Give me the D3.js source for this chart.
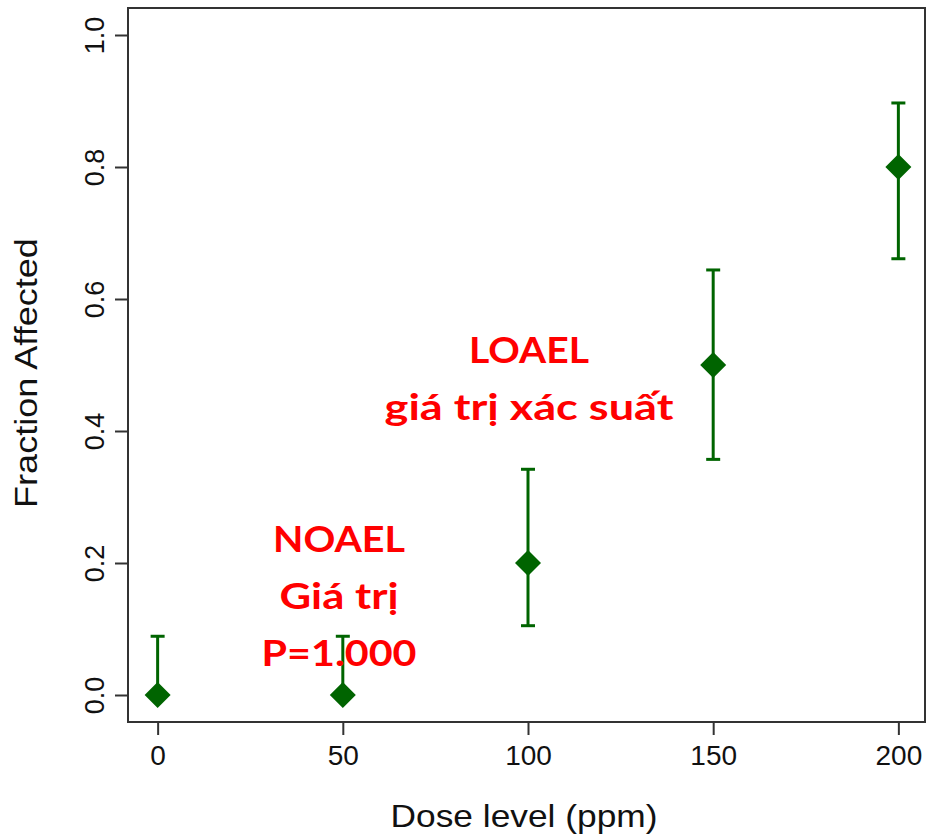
<!DOCTYPE html>
<html><head><meta charset="utf-8">
<script src="https://cdn.jsdelivr.net/npm/d3@7"></script>
<style>body{margin:0;background:#fff}svg{display:block}</style>
</head><body>
<svg id="c" width="927" height="837"></svg>
<script>
const doses = [0, 50, 100, 150, 200];
const fraction = [0, 0, 0.2, 0.5, 0.8];
const lower = [0, 0, 0.105, 0.357, 0.661];
const upper = [0.089, 0.089, 0.342, 0.644, 0.897];
const xTicks = [0, 50, 100, 150, 200];
const yTicks = [0, 0.2, 0.4, 0.6, 0.8, 1.0];
const noaelLines = ["NOAEL", "Giá trị", "P=1.000"];
const loaelLines = ["LOAEL", "giá trị xác suất"];

const svg = d3.select("#c");
const x = d3.scaleLinear().domain([-8, 208]).range([128, 928]);
const y = d3.scaleLinear().domain([-0.04, 1.04]).range([721.4, 8.6]);
const green = "#006400", axisCol = "#333";
const font = "'Liberation Sans', Arial, sans-serif";

// fit text horizontally to a width (reference glyphs are wider than available fonts)
function fitText(sel, cx, cy, width, rotate) {
  const len = sel.node().getComputedTextLength();
  const s = width / len;
  sel.attr("x", 0).attr("y", 0)
    .attr("transform", `translate(${cx},${cy})${rotate ? " rotate(-90)" : ""} scale(${s},1)`);
}

// box
svg.append("rect").attr("x", 128).attr("y", 8).attr("width", 797).attr("height", 714)
  .attr("fill", "none").attr("stroke", axisCol).attr("stroke-width", 2);

// x axis
const xa = svg.append("g").attr("transform", "translate(0,722)")
  .call(d3.axisBottom(x).tickValues(xTicks).tickSize(13).tickPadding(10).tickFormat(d3.format("d")));
xa.select(".domain").remove();
xa.selectAll("line").attr("stroke", axisCol).attr("stroke-width", 2);
xa.selectAll("text").attr("font-family", font).attr("font-size", 28).attr("fill", "#111");

// y axis
const ya = svg.append("g").attr("transform", "translate(128,0)")
  .call(d3.axisLeft(y).tickValues(yTicks).tickSize(13).tickPadding(10).tickFormat(d3.format(".1f")));
ya.select(".domain").remove();
ya.selectAll("line").attr("stroke", axisCol).attr("stroke-width", 2);
ya.selectAll("text").attr("font-family", font).attr("font-size", 27).attr("fill", "#111")
  .attr("text-anchor", "middle").attr("x", null)
  .attr("transform", "translate(-33,0) rotate(-90)").attr("dy", "0.35em");

// axis titles
const xt = svg.append("text").attr("text-anchor", "middle")
  .attr("font-family", font).attr("font-size", 31).attr("fill", "#111").text("Dose level (ppm)");
fitText(xt, 524, 827, 267, false);
const yt = svg.append("text").attr("text-anchor", "middle")
  .attr("font-family", font).attr("font-size", 31).attr("fill", "#111").text("Fraction Affected");
fitText(yt, 37, 373, 270, true);

// error bars
const data = doses.map((d, i) => ({d, f: fraction[i], lo: lower[i], hi: upper[i]}));
const eb = svg.append("g").attr("stroke", green).attr("stroke-width", 3);
eb.selectAll(".v").data(data).join("line")
  .attr("x1", d => x(d.d)).attr("x2", d => x(d.d)).attr("y1", d => y(d.lo)).attr("y2", d => y(d.hi));
eb.selectAll(".t").data(data).join("line")
  .attr("x1", d => x(d.d) - 7).attr("x2", d => x(d.d) + 7).attr("y1", d => y(d.hi)).attr("y2", d => y(d.hi));
eb.selectAll(".b").data(data.filter(d => d.lo > 0)).join("line")
  .attr("x1", d => x(d.d) - 7).attr("x2", d => x(d.d) + 7).attr("y1", d => y(d.lo)).attr("y2", d => y(d.lo));

// diamonds
svg.append("g").selectAll("path").data(data).join("path")
  .attr("transform", d => `translate(${x(d.d)},${y(d.f)})`)
  .attr("d", "M0,-13L13,0L0,13L-13,0Z").attr("fill", green);

// annotations
const afont = "Lato, 'Open Sans', sans-serif";
function annot(lines, widths, cx, y0) {
  lines.forEach((t, i) => {
    const tx = svg.append("text").attr("text-anchor", "middle").attr("font-family", afont)
      .attr("font-weight", "bold").attr("font-size", 36).attr("fill", "#ff0000").text(t);
    fitText(tx, cx, y0 + i * 57, widths[i], false);
  });
}
annot(noaelLines, [132, 119, 155], 339, 552);
annot(loaelLines, [120, 289], 529, 363);
</script>
</body></html>
